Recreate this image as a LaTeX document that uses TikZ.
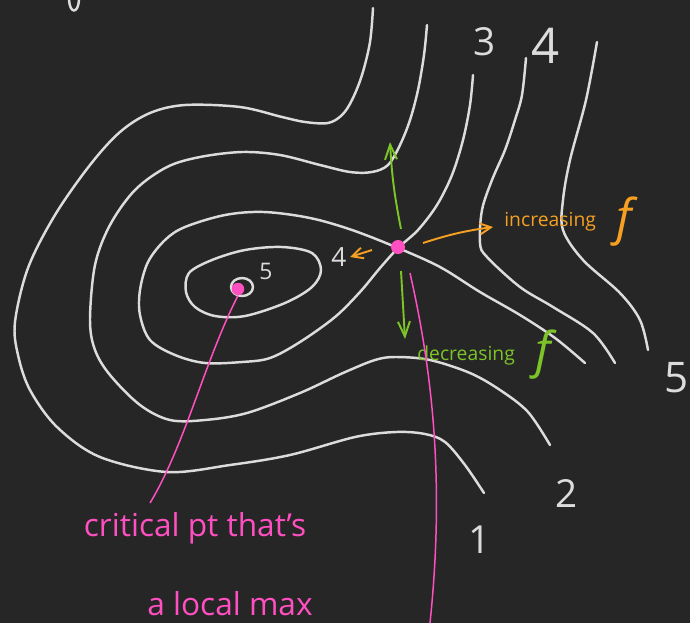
\documentclass[tikz,border=0pt]{standalone}
\usepackage{fontspec}
\setmainfont{Open Sans}
\usetikzlibrary{arrows.meta,positioning}
\definecolor{board}{HTML}{262626}
\definecolor{chalk}{HTML}{DCDCDC}
\definecolor{hotpink}{HTML}{FF4FC0}
\definecolor{leafgreen}{HTML}{7CC428}
\definecolor{amber}{HTML}{F5A023}

\begin{document}
\begin{tikzpicture}[
    x=0.02cm, y=-0.02cm,
    contour/.style={draw=chalk, line width=1.4pt, line cap=round, line join=round},
    dot/.style={circle, fill=hotpink, inner sep=0pt, minimum size=#1},
    lvl/.style={text=chalk, inner sep=0pt, font=\fontsize{#1}{#1}\selectfont},
    garrow/.style={-{Straight Barb[length=3mm, width=2.4mm]}, draw=leafgreen, line width=1.1pt},
    oarrow/.style={-{Straight Barb[length=2.2mm, width=2.2mm]}, draw=amber, line width=1.1pt},
    pinkline/.style={draw=hotpink, line width=0.85pt},
    note/.style={inner sep=0pt, anchor=west, font=\fontsize{#1}{#1}\selectfont},
  ]
  \fill[board] (0,0) rectangle (690,623);
  \useasboundingbox (0,0) rectangle (690,623);

  \draw[contour] (69,0) .. controls (70,14) and (78,14) .. (79,0);

  \draw[contour] plot[smooth, tension=0.55] coordinates {(373,8) (370,42) (362,75) (352,100) (342,115) (328,123) (305,122) (282,117) (240,107) (185,105) (150,113) (120,132) (90,165) (55,215) (28,268) (15,322) (18,355) (30,390) (57,427) (100,457) (167,472) (230,465) (290,455) (355,437) (396,432) (425,434) (445,442) (465,465) (484,493)};
  \draw[contour] plot[smooth, tension=0.55] coordinates {(427,25) (424,55) (418,90) (410,120) (400,145) (388,165) (372,172) (350,172) (320,165) (280,155) (242,152) (200,157) (167,167) (135,190) (110,225) (95,265) (90,320) (95,350) (110,375) (140,405) (170,420) (205,420) (247,413) (300,393) (343,373) (375,360) (396,357) (430,360) (470,373) (500,390) (528,412) (550,445)};
  \draw[contour] plot[smooth, tension=0.55] coordinates {(473,75) (470,105) (463,140) (452,175) (437,205) (418,230) (398,248) (380,268) (360,292) (335,317) (300,342) (270,358) (242,362) (205,363) (175,355) (150,340) (140,315) (140,290) (148,262) (165,240) (185,227) (225,215) (264,212) (310,218) (352,230) (398,248) (440,267) (480,292) (520,315) (555,338) (585,363)};
  \draw[contour] plot[smooth, tension=0.55] coordinates {(526,58) (522,95) (515,120) (505,150) (492,180) (482,210) (480,243) (487,257) (520,287) (553,307) (593,333) (615,363)};
  \draw[contour] plot[smooth, tension=0.55] coordinates {(597,42) (586,100) (570,160) (563,200) (563,230) (583,260) (620,293) (640,320) (648,350)};
  \draw[contour] plot[smooth cycle, tension=0.55] coordinates {(189,273) (186,292) (195,307) (215,316) (245,316) (285,303) (312,287) (321,270) (312,253) (282,247) (245,250) (212,260)};
  \draw[contour] (242,287) ellipse[x radius=11, y radius=9];

  \node[dot=0.25cm] (maxpt) at (238,289) {};
  \node[dot=0.28cm] (saddle) at (398,247) {};

  \node[lvl=22] (lab3) at (485,42) {3};
  \node[lvl=28] (lab4) at (546,46) {4};
  \node[lvl=22] (lab2) at (567,493) {2};
  \node[lvl=22] (lab1) at (480,540) {1};
  \node[lvl=24] (lab5) at (677,378) {5};
  \node[lvl=15] (sad4) at (339,257) {4};
  \node[lvl=13] (max5) at (266,271) {5};

  \coordinate (upfrom) at (401,229);
  \coordinate (upto) at (390,142);
  \coordinate (downfrom) at (401,271);
  \coordinate (downto) at (405,339);
  \coordinate (rightfrom) at (423,243);
  \coordinate (rightto) at (493,227);
  \coordinate (leftfrom) at (372,250);
  \coordinate (leftto) at (350,257);
  \draw[garrow] (upfrom) to[bend left=4] (upto);
  \draw[garrow] (downfrom) -- (downto);
  \draw[oarrow] (rightfrom) to[bend left=5] (rightto);
  \draw[oarrow] (leftfrom) -- (leftto);

  \node[note=11, text=amber] (incr) at (504,222) {increasing};
  \node[note=28, text=amber, right=0.4cm of incr] (incf) {\itshape f};
  \node[note=11, text=leafgreen] (decr) at (417,355) {decreasing};
  \node[note=28, text=leafgreen, right=0.4cm of decr] (decf) {\itshape f};

  \node[lvl=18, text=hotpink] (crit) at (195,528) {critical pt that's};
  \node[lvl=18, text=hotpink] (locmax) at (230,604) {a local max};

  \coordinate (critend) at (150,503);
  \coordinate (sadend) at (430,623);
  \draw[pinkline] (maxpt.south) .. controls (205,360) and (185,445) .. (critend);
  \draw[pinkline] ([shift={(12,26)}]saddle.center) .. controls (432,370) and (445,480) .. (sadend);
\end{tikzpicture}
\end{document}
